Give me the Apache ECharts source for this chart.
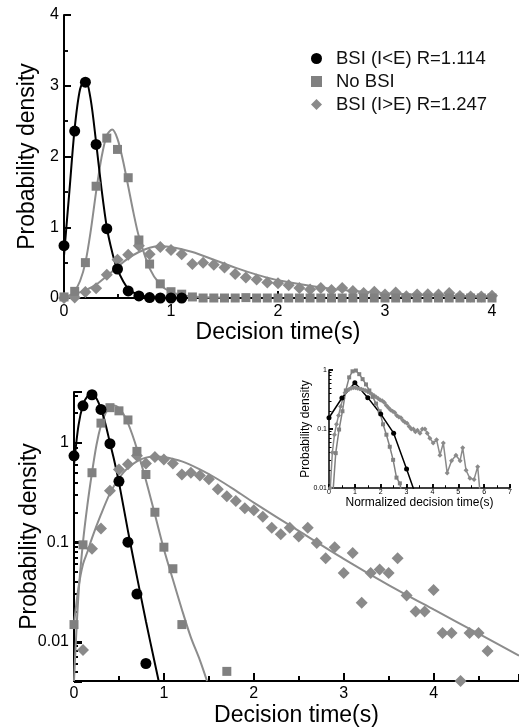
<!DOCTYPE html>
<html>
<head>
<meta charset="utf-8">
<script src="https://cdn.jsdelivr.net/npm/echarts@6/dist/echarts.min.js"></script>
<style>
  html, body { margin: 0; padding: 0; background: #fff; }
  #chart { width: 519px; height: 728px; }
</style>
</head>
<body>
<div id="chart"></div>
<script>
// ---- measured histograms (decision time, s) ----
const bsiLowT = [0, 0.1, 0.2, 0.3, 0.4, 0.5, 0.6, 0.7, 0.8, 0.9, 1.0, 1.1];
const bsiLow = [0.74, 2.36, 3.05, 2.17, 0.98, 0.41, 0.10, 0.030, 0.006, 0, 0, 0];

const noBsiT = [0, 0.1, 0.2, 0.3, 0.4, 0.5, 0.6, 0.7, 0.8, 0.9, 1.0, 1.1, 1.2, 1.3, 1.4, 1.5, 1.6, 1.7, 1.8, 1.9,
  2.0, 2.1, 2.2, 2.3, 2.4, 2.5, 2.6, 2.7, 2.8, 2.9, 3.0, 3.1, 3.2, 3.3, 3.4, 3.5, 3.6, 3.7, 3.8, 3.9, 4.0];
const noBsi = [0.0148, 0.094, 0.50, 1.58, 2.26, 2.10, 1.70, 0.82, 0.48, 0.20, 0.089, 0.054, 0.0148, 0, 0, 0, 0, 0.005, 0, 0,
  0, 0, 0, 0, 0, 0, 0, 0, 0, 0, 0, 0, 0, 0, 0, 0, 0, 0, 0, 0, 0];

const bsiHighT = [0, 0.1, 0.2, 0.3, 0.4, 0.5, 0.6, 0.7, 0.8, 0.9, 1.0, 1.1, 1.2, 1.3, 1.4, 1.5, 1.6, 1.7, 1.8, 1.9,
  2.0, 2.1, 2.2, 2.3, 2.4, 2.5, 2.6, 2.7, 2.8, 2.9, 3.0, 3.1, 3.2, 3.3, 3.4, 3.5, 3.6, 3.7, 3.8, 3.9,
  4.0, 4.1, 4.2, 4.3, 4.4, 4.5, 4.6];
const bsiHigh = [0, 0.0082, 0.086, 0.137, 0.33, 0.54, 0.61, 0.74, 0.62, 0.72, 0.68, 0.62, 0.48, 0.50, 0.47, 0.43, 0.34, 0.29, 0.26, 0.22,
  0.21, 0.18, 0.14, 0.12, 0.14, 0.114, 0.14, 0.098, 0.069, 0.089, 0.049, 0.078, 0.0245, 0.049, 0.053, 0.049, 0.069, 0.029, 0.020, 0.020,
  0.033, 0.0122, 0.0122, 0.004, 0.0122, 0.0122, 0.008];

// ---- fitted curves ----
const fitLowT = [0, 0.05, 0.1, 0.15, 0.2, 0.25, 0.3, 0.35, 0.4, 0.45, 0.5, 0.6, 0.7, 0.8, 0.9, 0.95];
const fitLow = [0.6, 1.5, 2.4, 2.95, 3.1, 2.8, 2.2, 1.55, 1.0, 0.65, 0.4, 0.13, 0.045, 0.016, 0.006, 0.0037];

const fitNoT = [0, 0.05, 0.1, 0.15, 0.2, 0.25, 0.3, 0.35, 0.4, 0.45, 0.5, 0.55, 0.6, 0.65, 0.7, 0.8, 0.9, 1.0, 1.1, 1.2, 1.3, 1.4, 1.48];
const fitNo = [0.004, 0.03, 0.1, 0.24, 0.5, 0.95, 1.5, 1.98, 2.3, 2.38, 2.25, 1.95, 1.58, 1.2, 0.87, 0.42, 0.19, 0.085, 0.042, 0.021, 0.011, 0.0065, 0.004];

const fitHighT = [0, 0.05, 0.1, 0.15, 0.2, 0.3, 0.4, 0.5, 0.6, 0.7, 0.8, 0.9, 1.0, 1.2, 1.4, 1.6, 1.8, 2.0, 2.5, 3.0, 3.5, 4.0, 4.5, 4.95];
const fitHigh = [0.015, 0.035, 0.06, 0.08, 0.11, 0.19, 0.31, 0.44, 0.56, 0.65, 0.71, 0.73, 0.72, 0.65, 0.54, 0.43, 0.33, 0.25, 0.13, 0.068, 0.037, 0.021, 0.012, 0.0072];

// ---- inset: normalized decision time ----
const insLowT = [0, 0.5, 1.0, 1.5, 2.0, 2.5, 3.0, 3.5];
const insLow = [0.155, 0.335, 0.61, 0.34, 0.18, 0.085, 0.021, 0.005];

const insNoT = [0.13, 0.26, 0.39, 0.52, 0.65, 0.78, 0.91, 1.04, 1.17, 1.3, 1.43, 1.56, 1.69, 1.82, 1.96, 2.09, 2.22, 2.35, 2.48, 2.61, 2.74, 2.87];
const insNo = [0.006, 0.039, 0.098, 0.2, 0.45, 0.75, 0.95, 0.98, 0.85, 0.7, 0.57, 0.45, 0.35, 0.27, 0.2, 0.12, 0.08, 0.05, 0.03, 0.015, 0.012, 0.006];

const insHighT = [0.05, 0.13, 0.21, 0.29, 0.37, 0.45, 0.54, 0.62, 0.7, 0.78, 0.86, 0.94, 1.02, 1.1, 1.18, 1.26, 1.34, 1.42, 1.5,
  1.58, 1.66, 1.74, 1.82, 1.9, 1.98, 2.06, 2.14, 2.22, 2.3, 2.38, 2.46, 2.54, 2.62, 2.7, 2.78, 2.86, 2.94, 3.02, 3.1, 3.18,
  3.26, 3.34, 3.42, 3.52, 3.61, 3.71, 3.8, 3.9, 4.03, 4.16, 4.29, 4.42, 4.57, 4.74, 4.91, 5.07, 5.17, 5.3, 5.45, 5.61, 5.75, 5.87];
const insHigh = [0.01, 0.04, 0.08, 0.12, 0.17, 0.24, 0.33, 0.41, 0.45, 0.47, 0.49, 0.5, 0.5, 0.49, 0.48, 0.47, 0.46, 0.45, 0.43,
  0.41, 0.39, 0.37, 0.35, 0.33, 0.31, 0.3, 0.28, 0.25, 0.23, 0.21, 0.2, 0.19, 0.17, 0.16, 0.155, 0.14, 0.13, 0.125, 0.11, 0.1,
  0.1, 0.09, 0.095, 0.085, 0.1, 0.1, 0.085, 0.07, 0.058, 0.066, 0.036, 0.058, 0.018, 0.029, 0.036, 0.029, 0.048, 0.02, 0.0146, 0.014, 0.023, 0.006];

// ---- tick values ----
const linTicks = [0, 1, 2, 3, 4];
const linMinor = [0.5, 1.5, 2.5, 3.5, 4.5];
const insTicks = [0, 1, 2, 3, 4, 5, 6, 7];
const insMinor = [0.5, 1.5, 2.5, 3.5, 4.5, 5.5, 6.5];
const logMajor = [0.01, 0.1, 1];
const logMinor = [0.005, 0.006, 0.007, 0.008, 0.009, 0.02, 0.03, 0.04, 0.05, 0.06, 0.07, 0.08, 0.09,
  0.2, 0.3, 0.4, 0.5, 0.6, 0.7, 0.8, 0.9, 2, 3];
const bottomRange = [0.004, 3.25];   // log panel y range
const insetRange = [0.01, 1];

const names = ['BSI (I<E) R=1.114', 'No BSI', 'BSI (I>E) R=1.247'];
const FONT = 'Liberation Sans, Arial, Helvetica, sans-serif';
const BLACK = '#000';
const GREY_SQ = '#808080';
const GREY_DI = '#8a8a8a';
const GREY_LN = '#8c8c8c';

const pairs = (xs, ys) => xs.map((x, i) => [x, ys[i]]);
const positive = d => d.filter(p => p[1] > 0);
const upTo = (d, m) => d.filter(p => p[0] <= m + 1e-9);
const lg = v => Math.log10(v);
const fmtPow = v => String(+Math.pow(10, v).toPrecision(3));

const axLine = { show: true, onZero: false, lineStyle: { color: BLACK, width: 2 } };
const thinLine = { show: true, onZero: false, lineStyle: { color: BLACK, width: 1.5 } };
const noLine = { show: false, onZero: false };

function tick(len, width, values) {
  return { show: true, inside: true, length: len, lineStyle: { color: BLACK, width: width }, customValues: values };
}
function label(size, margin, values, formatter) {
  const l = { show: true, color: BLACK, fontSize: size, margin: margin, fontFamily: FONT, customValues: values };
  if (formatter) l.formatter = formatter;
  return l;
}
// linear helper axis carrying only ticks / labels
function tickAxis(grid, pos, min, max, tk, lb) {
  return {
    gridIndex: grid, type: 'value', position: pos, min: min, max: max,
    axisLine: noLine, splitLine: { show: false }, axisTick: tk, axisLabel: lb || { show: false }
  };
}
function named(axis, text, size, gap) {
  axis.name = text; axis.nameLocation = 'middle'; axis.nameGap = gap;
  axis.nameTextStyle = { fontSize: size, color: BLACK, fontFamily: FONT };
  return axis;
}
function fitLine(x, y, data, color) {
  return {
    type: 'line', xAxisIndex: x, yAxisIndex: y, data: data, smooth: 0.3,
    showSymbol: false, silent: true, z: 2,
    lineStyle: { color: color, width: 2 }
  };
}
function dots(x, y, name, data, symbol, size, color, z) {
  return {
    type: 'scatter', name: name, xAxisIndex: x, yAxisIndex: y, data: data,
    symbol: symbol, symbolSize: size, itemStyle: { color: color, opacity: 1 }, z: z
  };
}
function insetLine(data, color, symbol, size) {
  return {
    type: 'line', xAxisIndex: 4, yAxisIndex: 5, data: data, symbol: symbol, symbolSize: size,
    showSymbol: true, z: 6, itemStyle: { color: color }, lineStyle: { color: color, width: 1.5 }
  };
}

const grids = [
  { left: 64, top: 15, width: 428, height: 283 },
  { left: 74, top: 392, width: 445, height: 290 },
  { left: 329, top: 370, width: 181, height: 118 }
];
const xAxes = [
  // 0,1: top panel
  named({
    gridIndex: 0, type: 'value', position: 'bottom', min: 0, max: 4,
    axisLine: axLine, splitLine: { show: false },
    axisTick: tick(7, 2, linTicks), axisLabel: label(16, 6, linTicks)
  }, 'Decision time(s)', 23, 22),
  tickAxis(0, 'bottom', 0, 4, tick(4, 1.5, [0.5, 1.5, 2.5, 3.5])),
  // 2,3: bottom panel
  named({
    gridIndex: 1, type: 'value', position: 'bottom', min: 0, max: 4.95,
    axisLine: axLine, splitLine: { show: false },
    axisTick: tick(8, 2, linTicks), axisLabel: label(16, 5, linTicks)
  }, 'Decision time(s)', 23, 23),
  tickAxis(1, 'bottom', 0, 4.95, tick(5, 2, linMinor)),
  // 4,5: inset
  named({
    gridIndex: 2, type: 'value', position: 'bottom', min: 0, max: 7,
    axisLine: thinLine, splitLine: { show: false },
    axisTick: tick(4, 1.5, insTicks), axisLabel: label(7, 1, insTicks)
  }, 'Normalized decision time(s)', 12, 9),
  tickAxis(2, 'bottom', 0, 7, tick(2.5, 1, insMinor))
];
const yAxes = [
  // 0,1: top panel
  named({
    gridIndex: 0, type: 'value', position: 'left', min: 0, max: 4,
    axisLine: axLine, splitLine: { show: false },
    axisTick: tick(7, 2, linTicks), axisLabel: label(16, 5, linTicks)
  }, 'Probability density', 23, 16),
  tickAxis(0, 'left', 0, 4, tick(4, 1.5, [0.5, 1.5, 2.5, 3.5])),
  // 2: bottom panel data axis (log), 3,4: its ticks in log10 units
  named({
    gridIndex: 1, type: 'log', logBase: 10, position: 'left', min: bottomRange[0], max: bottomRange[1],
    axisLine: axLine, splitLine: { show: false }, axisTick: { show: false }, axisLabel: { show: false }
  }, 'Probability density', 23, 33),
  tickAxis(1, 'left', lg(bottomRange[0]), lg(bottomRange[1]),
    tick(8, 2, logMajor.map(lg)), label(16, 5, logMajor.map(lg), fmtPow)),
  tickAxis(1, 'left', lg(bottomRange[0]), lg(bottomRange[1]), tick(4, 2, logMinor.map(lg))),
  // 5: inset data axis (log), 6,7: its ticks
  named({
    gridIndex: 2, type: 'log', logBase: 10, position: 'left', min: insetRange[0], max: insetRange[1],
    axisLine: thinLine, splitLine: { show: false }, axisTick: { show: false }, axisLabel: { show: false }
  }, 'Probability density', 12, 17),
  tickAxis(2, 'left', lg(insetRange[0]), lg(insetRange[1]),
    tick(4, 1.5, logMajor.map(lg)), label(7, 2, logMajor.map(lg), fmtPow)),
  tickAxis(2, 'left', lg(insetRange[0]), lg(insetRange[1]),
    tick(2.5, 1, logMinor.filter(v => v > 0.01 && v < 1).map(lg)))
];

// thin strips along each axis whose split lines act as the tick marks
function hiddenAxis(gi) { return { gridIndex: gi, type: 'value', show: false }; }
function tickStrip(rect, dir, scaleCfg, width) {
  const gi = grids.length;
  grids.push(rect);
  const ax = Object.assign({
    gridIndex: gi, axisLine: noLine, axisTick: { show: false }, axisLabel: { show: false },
    splitLine: { show: true, lineStyle: { color: BLACK, width: width } }
  }, scaleCfg);
  if (dir === 'x') { xAxes.push(ax); yAxes.push(hiddenAxis(gi)); }
  else { yAxes.push(ax); xAxes.push(hiddenAxis(gi)); }
}
// top panel
tickStrip({ left: 64, top: 291, width: 428, height: 7 }, 'x', { type: 'value', min: 0, max: 4, interval: 1 }, 2);
tickStrip({ left: 64, top: 294, width: 428, height: 4 }, 'x', { type: 'value', min: 0, max: 4, interval: 0.5 }, 1.5);
tickStrip({ left: 64, top: 15, width: 7, height: 283 }, 'y', { type: 'value', min: 0, max: 4, interval: 1 }, 2);
tickStrip({ left: 64, top: 15, width: 4, height: 283 }, 'y', { type: 'value', min: 0, max: 4, interval: 0.5 }, 1.5);
// bottom panel
tickStrip({ left: 74, top: 674, width: 445, height: 8 }, 'x', { type: 'value', min: 0, max: 4.95, interval: 1 }, 2);
tickStrip({ left: 74, top: 677, width: 445, height: 5 }, 'x', { type: 'value', min: 0, max: 4.95, interval: 0.5 }, 2);
tickStrip({ left: 74, top: 392, width: 8, height: 290 }, 'y',
  { type: 'log', logBase: 10, min: bottomRange[0], max: bottomRange[1] }, 2);
// inset
tickStrip({ left: 329, top: 484, width: 181, height: 4 }, 'x', { type: 'value', min: 0, max: 7, interval: 1 }, 1.5);
tickStrip({ left: 329, top: 485.5, width: 181, height: 2.5 }, 'x', { type: 'value', min: 0, max: 7, interval: 0.5 }, 1);
tickStrip({ left: 329, top: 370, width: 4, height: 118 }, 'y',
  { type: 'log', logBase: 10, min: insetRange[0], max: insetRange[1] }, 1.5);

const lowPts = pairs(bsiLowT, bsiLow);
const noPts = pairs(noBsiT, noBsi);
const highPts = pairs(bsiHighT, bsiHigh);

const chart = echarts.init(document.getElementById('chart'));
chart.setOption({
  animation: false,
  backgroundColor: '#fff',
  textStyle: { fontFamily: FONT },
  legend: {
    orient: 'vertical', left: 306, top: 44, itemWidth: 11, itemHeight: 11, itemGap: 4,
    selectedMode: false,
    textStyle: { fontSize: 18.5, color: '#111', fontFamily: FONT, lineHeight: 18, padding: [0, 0, 0, 9] },
    data: [
      { name: names[0], icon: 'circle' },
      { name: names[1], icon: 'rect' },
      { name: names[2], icon: 'diamond' }
    ]
  },
  grid: grids,
  xAxis: xAxes,
  yAxis: yAxes,
  series: [
    // top panel, linear
    fitLine(0, 0, pairs(fitHighT, fitHigh).filter(p => p[0] <= 4), GREY_LN),
    fitLine(0, 0, pairs(fitNoT, fitNo), GREY_LN),
    fitLine(0, 0, pairs(fitLowT, fitLow), BLACK),
    dots(0, 0, names[2], upTo(highPts, 4), 'diamond', 12, GREY_DI, 3),
    dots(0, 0, names[1], upTo(noPts, 4), 'rect', 9, GREY_SQ, 4),
    dots(0, 0, names[0], lowPts, 'circle', 11, BLACK, 5),
    // bottom panel, log
    fitLine(2, 2, pairs(fitHighT, fitHigh), GREY_LN),
    fitLine(2, 2, pairs(fitNoT, fitNo), GREY_LN),
    fitLine(2, 2, pairs(fitLowT, fitLow), BLACK),
    dots(2, 2, names[2], positive(highPts), 'diamond', 12, GREY_DI, 3),
    dots(2, 2, names[1], positive(noPts), 'rect', 9, GREY_SQ, 4),
    dots(2, 2, names[0], positive(lowPts), 'circle', 11, BLACK, 5),
    // inset
    insetLine(pairs(insHighT, insHigh), GREY_DI, 'diamond', 5),
    insetLine(pairs(insNoT, insNo), GREY_SQ, 'rect', 4),
    insetLine(pairs(insLowT, insLow), BLACK, 'circle', 5)
  ]
});
</script>
</body>
</html>
